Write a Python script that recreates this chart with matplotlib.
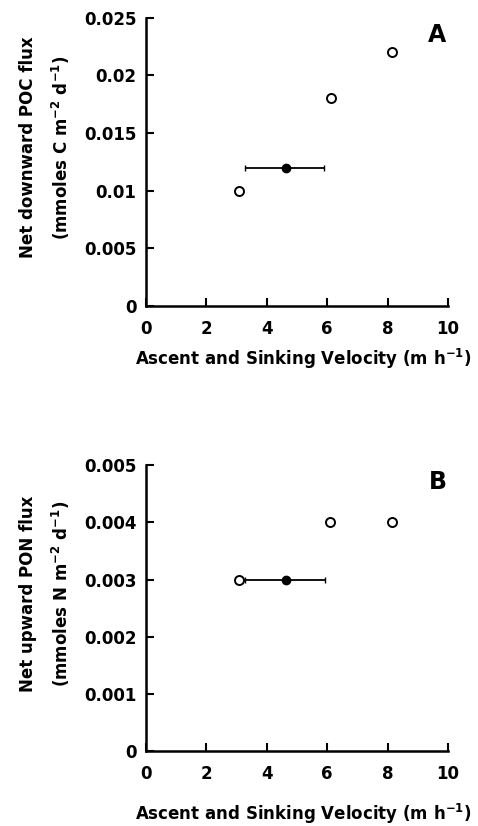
import matplotlib
matplotlib.use("Agg")
import matplotlib.pyplot as plt
import numpy as np

plt.rcParams['font.family'] = ['DejaVu Sans']
plt.rcParams['font.weight'] = 'bold'
plt.rcParams['mathtext.fontset'] = 'custom'
plt.rcParams['mathtext.rm'] = 'DejaVu Sans:bold'
plt.rcParams['mathtext.bf'] = 'DejaVu Sans:bold'
plt.rcParams['mathtext.default'] = 'bf'

# Panel A - POC
poc_open_x = [3.08, 6.11, 8.15]
poc_open_y = [0.010, 0.018, 0.022]
poc_mean_x = 4.62
poc_mean_y = 0.012
poc_err = [[1.33], [1.28]]  # left, right

# Panel B - PON
pon_open_x = [3.08, 6.10, 8.14]
pon_open_y = [0.003, 0.004, 0.004]
pon_mean_x = 4.65
pon_mean_y = 0.003
pon_err = [[1.38], [1.28]]

x_ticks = [0, 2, 4, 6, 8, 10]
poc_yticks = [0, 0.005, 0.01, 0.015, 0.02, 0.025]
poc_ylabels = ["0", "0.005", "0.01", "0.015", "0.02", "0.025"]
pon_yticks = [0, 0.001, 0.002, 0.003, 0.004, 0.005]
pon_ylabels = ["0", "0.001", "0.002", "0.003", "0.004", "0.005"]

fig = plt.figure(figsize=(4.78, 8.26), dpi=100)
axA = fig.add_axes([0.3054, 0.6295, 0.632, 0.349])
axB = fig.add_axes([0.3054, 0.0908, 0.632, 0.346])


def style(ax, yticks, ylabels, line1, line2, letter, xlab_y):
    ax.set_xlim(0, 10)
    ax.set_ylim(0, yticks[-1])
    ax.spines['top'].set_visible(False)
    ax.spines['right'].set_visible(False)
    ax.spines['left'].set_linewidth(1.8)
    ax.spines['bottom'].set_linewidth(1.8)
    ax.set_xticks(x_ticks)
    ax.set_yticks(yticks)
    ax.set_yticklabels(ylabels)
    ax.tick_params(direction='in', length=6, width=1.5, labelsize=12, pad=7)
    ax.tick_params(axis='x', pad=10)
    ax.set_xlabel("Ascent and Sinking Velocity (m h$^{-1}$)", fontsize=12, fontweight='bold')
    ax.xaxis.set_label_coords(0.52, xlab_y)
    ax.text(-0.39, 0.55, line1, transform=ax.transAxes, rotation=90,
            ha='center', va='center', fontsize=12, fontweight='bold')
    ax.text(-0.28, 0.55, line2, transform=ax.transAxes, rotation=90,
            ha='center', va='center', fontsize=12, fontweight='bold')
    ax.text(0.995, 0.94, letter, transform=ax.transAxes, ha='right', va='center',
            fontsize=17, fontweight='bold')


axA.errorbar([poc_mean_x], [poc_mean_y], xerr=poc_err, fmt='o', color='black',
             markersize=6, capsize=2, elinewidth=1.3, capthick=1.0, zorder=3)
axA.plot(poc_open_x, poc_open_y, 'o', markerfacecolor='white', markeredgecolor='black',
         markersize=6.5, markeredgewidth=1.4, linestyle='none', zorder=4)
style(axA, poc_yticks, poc_ylabels, "Net downward POC flux",
      "(mmoles C m$^{-2}$ d$^{-1}$)", "A", -0.142)

axB.errorbar([pon_mean_x], [pon_mean_y], xerr=pon_err, fmt='o', color='black',
             markersize=6, capsize=2, elinewidth=1.3, capthick=1.0, zorder=3)
axB.plot(pon_open_x, pon_open_y, 'o', markerfacecolor='white', markeredgecolor='black',
         markersize=6.5, markeredgewidth=1.4, linestyle='none', zorder=4)
style(axB, pon_yticks, pon_ylabels, "Net upward PON flux",
      "(mmoles N m$^{-2}$ d$^{-1}$)", "B", -0.177)

fig.savefig("out.png", dpi=100)
